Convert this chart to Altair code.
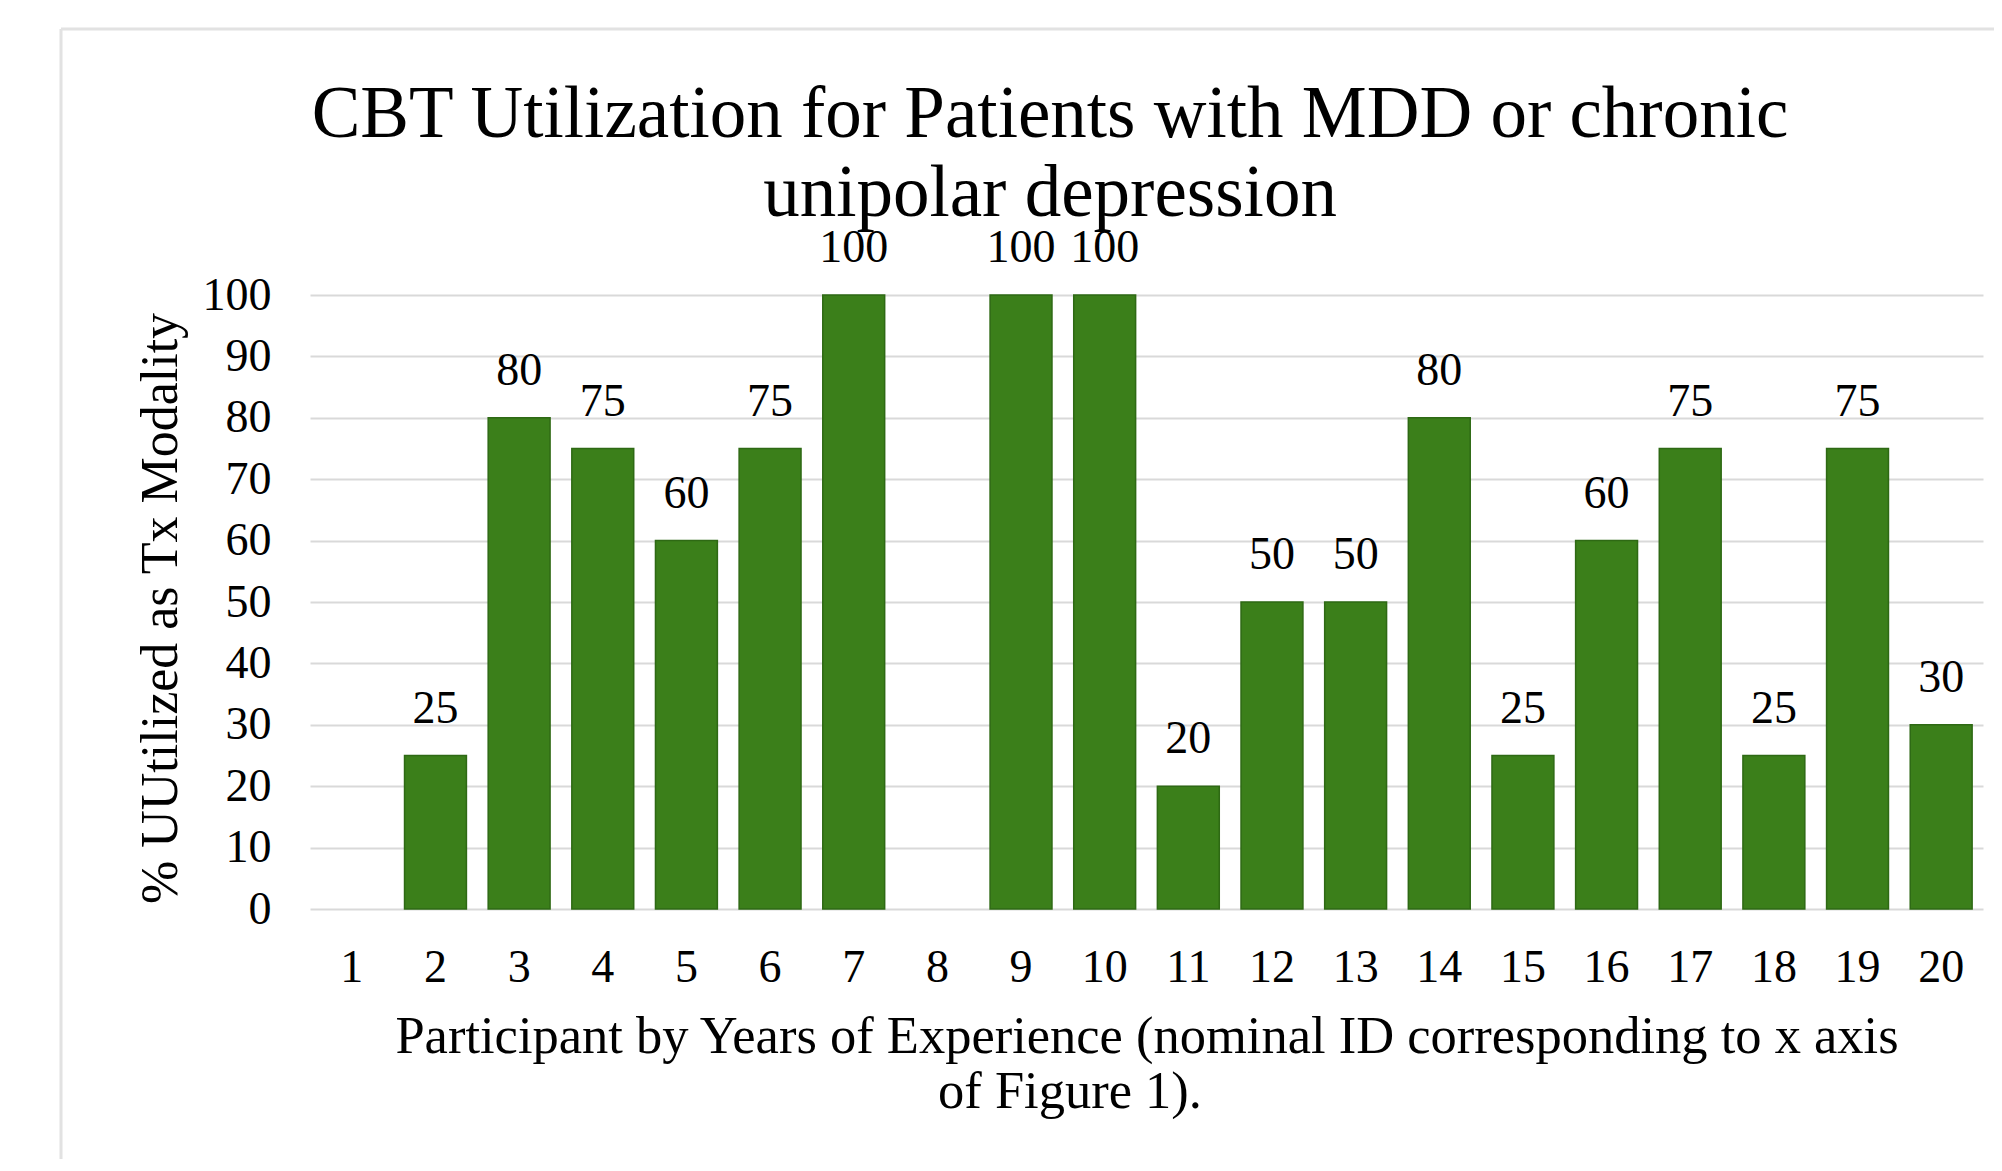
import altair as alt
import pandas as pd

# ---- data ----
TITLE_LINES = ["CBT Utilization for Patients with MDD or chronic", "unipolar depression"]
PARTICIPANTS = ["1", "2", "3", "4", "5", "6", "7", "8", "9", "10",
                "11", "12", "13", "14", "15", "16", "17", "18", "19", "20"]
CBT_PCT = [None, 25, 80, 75, 60, 75, 100, None, 100, 100,
           20, 50, 50, 80, 25, 60, 75, 25, 75, 30]
Y_TICKS = [0, 10, 20, 30, 40, 50, 60, 70, 80, 90, 100]
Y_TITLE = "% UUtilized as Tx Modality"
X_TITLE_LINE1 = "Participant by Years of Experience (nominal ID corresponding to x axis"
X_TITLE_LINE2 = "of Figure 1)."

df = pd.DataFrame({"participant": PARTICIPANTS, "pct": CBT_PCT})
df = df.dropna()

FONT = "Liberation Serif"
W, H = 1673, 614

x_enc = alt.X(
    "participant:N",
    sort=PARTICIPANTS,
    scale=alt.Scale(domain=PARTICIPANTS, paddingInner=0.26, paddingOuter=0.13),
    axis=alt.Axis(
        title=X_TITLE_LINE1,
        labelAngle=0,
        labelFont=FONT, labelFontSize=46, labelColor="#000000",
        labelBaseline="alphabetic", labelPadding=72,
        ticks=False, tickSize=0, domain=False, grid=False,
        titleFont=FONT, titleFontSize=52.5, titleFontWeight="normal", titleColor="#000000",
        titleBaseline="alphabetic", titleY=143,
    ),
)
y_enc = alt.Y(
    "pct:Q",
    scale=alt.Scale(domain=[0, 100], nice=False),
    axis=alt.Axis(
        values=Y_TICKS,
        title=Y_TITLE,
        labelFont=FONT, labelFontSize=46, labelColor="#000000", labelPadding=39,
        ticks=False, tickSize=0, domain=False,
        grid=True, gridColor="#d9d9d9", gridWidth=2,
        titleFont=FONT, titleFontSize=52, titleFontWeight="normal", titleColor="#000000",
        titleBaseline="alphabetic", titleX=-134, titleY=313,
    ),
)

bars = alt.Chart(df).mark_bar(
    color="#3b7f1a", stroke="#2e6914", strokeWidth=1.5
).encode(x=x_enc, y=y_enc)

labels = alt.Chart(df).mark_text(
    font=FONT, fontSize=46, color="#000000", baseline="alphabetic", dy=-33
).encode(x=alt.X("participant:N", sort=PARTICIPANTS), y=alt.Y("pct:Q"), text=alt.Text("pct:Q", format="d"))

title_df = pd.DataFrame({"t": ["\n".join(TITLE_LINES)]})
title = alt.Chart(title_df).mark_text(
    font=FONT, fontSize=73, color="#000000", align="center", baseline="alphabetic",
    lineBreak="\n", lineHeight=79,
).encode(text="t:N", x=alt.value(740), y=alt.value(-158))

# second line of the x-axis title: Excel wrapped it slightly left of centre
xt2_df = pd.DataFrame({"t": [X_TITLE_LINE2]})
x_title2 = alt.Chart(xt2_df).mark_text(
    font=FONT, fontSize=52.5, color="#000000", align="center", baseline="alphabetic",
).encode(text="t:N", x=alt.value(760), y=alt.value(813))

one = pd.DataFrame({"k": [0]})
border_top = alt.Chart(one).mark_rule(color="#e2e2e2", strokeWidth=3).encode(
    x=alt.value(-249), x2=alt.value(1690), y=alt.value(-266))
border_left = alt.Chart(one).mark_rule(color="#e2e2e2", strokeWidth=3).encode(
    x=alt.value(-249), y=alt.value(-266), y2=alt.value(900))

chart = alt.layer(border_top, border_left, bars, labels, title, x_title2).properties(
    width=W, height=H,
    autosize=alt.AutoSizeParams(type="none"),
    padding={"left": 302, "top": 287, "right": 11, "bottom": 250},
    background="#ffffff",
).configure_view(stroke=None)

chart.save("out.html", embed_options={"renderer": "svg", "actions": False})
